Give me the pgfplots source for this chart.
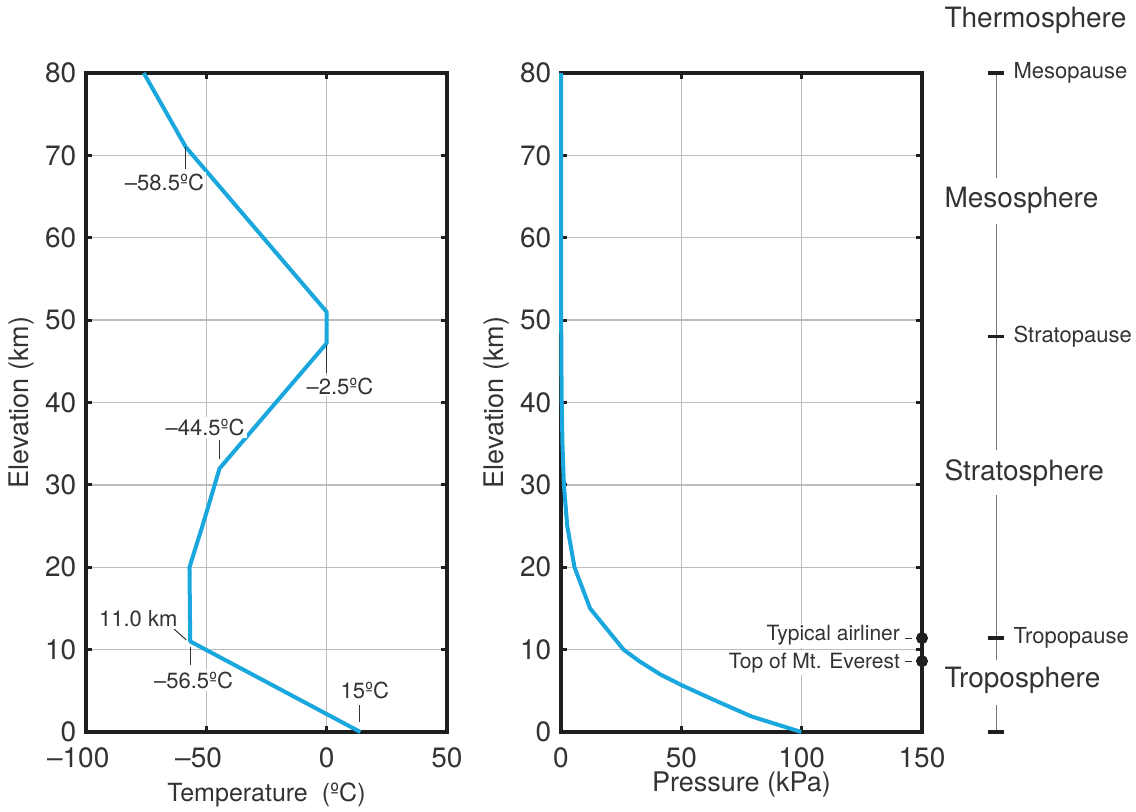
\documentclass[border=0pt]{standalone}
\usepackage{fontspec}
\setmainfont{TeX Gyre Heros}
\usepackage{pgfplots}
\pgfplotsset{compat=1.18}
\definecolor{atmblue}{HTML}{19A7DD}
\definecolor{txt}{HTML}{333333}
\definecolor{gridc}{HTML}{BDBDBD}
\newcommand{\fs}[1]{\fontsize{#1}{#1}\selectfont}

\pgfplotsset{
  atm/.style={
    scale only axis, width=180.5pt, height=329.5pt,
    anchor=south west, clip=false,
    ymin=0, ymax=80, ytick={0,10,...,80},
    grid=major, major grid style={line width=0.7pt, gridc},
    axis line style={line width=1.8pt, black!88},
    tick align=inside, major tick length=3pt,
    tick style={line width=1.6pt, black!88},
    tick label style={font=\fs{14}, text=txt, inner sep=0pt},
    xticklabel style={yshift=-7.4pt},
    yticklabel style={xshift=-4.7pt},
    /pgf/number format/assume math mode=true,
    ylabel={Elevation (km)},
    every axis y label/.style={at={(rel axis cs:0,0.5)}, xshift=-32pt, rotate=90,
      anchor=center, font=\fs{13.5}, text=txt},
  },
}
\tikzset{
  note/.style={font=\fs{11}, text=txt, fill=white, inner sep=1pt},
  lead/.style={line width=0.5pt, txt},
  layer/.style={font=\fs{14}, text=txt, anchor=west, inner sep=0pt},
  pause/.style={font=\fs{11}, text=txt, anchor=west, inner sep=0pt},
  bar/.style={line width=0.6pt, black!55},
  barTick/.style={line width=1.6pt, black!88},
}

\begin{document}
\begin{tikzpicture}
\useasboundingbox (0,0) rectangle (568pt,-406pt);

% temperature profile
\begin{axis}[atm, at={(43pt,-366pt)},
  xmin=-100, xmax=50, xtick={-100,-50,0,50},
  xticklabels={\llap{–}100,\llap{–}50,0,50},
  xlabel={Temperature\ \ (ºC)},
  every axis x label/.style={at={(rel axis cs:0.5,0)}, yshift=-31.5pt, anchor=center,
    font=\fs{12.5}, text=txt},
]
\addplot[atmblue, line width=2pt, line join=round] coordinates {
  (-76,80) (-58.5,71) (0,51) (0,47.2) (-44.5,32) (-51,25.6) (-57,20) (-56.7,11) (14,0)};
\draw[lead] (axis cs:-58.5,71) -- (axis cs:-58.5,68.3);
\node[note] at (axis cs:-67.4,66.7) {–58.5ºC};
\draw[lead] (axis cs:0,47) -- (axis cs:0,43.6);
\node[note] at (axis cs:5.5,42.0) {–2.5ºC};
\draw[lead] (axis cs:-44.4,35.4) -- (axis cs:-44.4,33.2);
\node[note] at (axis cs:-50.5,37.0) {–44.5ºC};
\draw[lead] (axis cs:-63.8,12.6) -- (axis cs:-58.4,11.2);
\node[note] at (axis cs:-78.3,13.8) {11.0 km};
\draw[lead] (axis cs:-56.4,10.3) -- (axis cs:-56.4,8.1);
\node[note] at (axis cs:-55.3,6.3) {–56.5ºC};
\draw[lead] (axis cs:13.8,3.3) -- (axis cs:13.8,1.2);
\node[note] at (axis cs:15.9,5.0) {15ºC};
\end{axis}

% pressure profile
\begin{axis}[atm, at={(280.5pt,-366pt)},
  xmin=0, xmax=150, xtick={0,50,100,150},
  xlabel={Pressure (kPa)},
  every axis x label/.style={at={(rel axis cs:0.5,0)}, yshift=-26.5pt, anchor=center,
    font=\fs{13.5}, text=txt},
]
\addplot[atmblue, line width=2pt, line join=round] coordinates {
  (99.8,0) (79,1.9) (63.5,3.9) (50,5.7) (41.2,7.0) (32.5,8.6) (26,10)
  (12.1,15) (5.6,20) (2.6,25) (1.2,30) (0.6,35) (0.3,40) (0.15,45)
  (0.08,50) (0.02,60) (0.005,70) (0.001,80)};
\addplot[only marks, mark=*, mark size=2.8pt, black!88] coordinates {(150,11.4) (150,8.6)};
\node[note, font=\fs{10.5}, anchor=east] at (axis cs:141.8,11.7) {Typical airliner};
\draw[lead] (axis cs:143.0,11.4) -- (axis cs:146.0,11.4);
\node[note, font=\fs{10.5}, anchor=east] at (axis cs:141.8,8.4) {Top of Mt. Everest};
\draw[lead] (axis cs:143.0,8.6) -- (axis cs:146.0,8.6);

% layer scale to the right
\draw[bar] (axis cs:180.8,80) -- (axis cs:180.8,67.2);
\draw[bar] (axis cs:180.8,61.7) -- (axis cs:180.8,34.2);
\draw[bar] (axis cs:180.8,28.8) -- (axis cs:180.8,8.7);
\draw[bar] (axis cs:180.8,3.3) -- (axis cs:180.8,0);
\draw[barTick] (axis cs:177.5,80) -- (axis cs:184.2,80);
\draw[barTick] (axis cs:177.5,48) -- (axis cs:184.2,48);
\draw[barTick] (axis cs:177.5,11.4) -- (axis cs:184.2,11.4);
\draw[barTick] (axis cs:177.5,0) -- (axis cs:184.2,0);
\node[layer] at (axis cs:159.2,86.4) {Thermosphere};
\node[layer] at (axis cs:159.2,64.6) {Mesosphere};
\node[layer] at (axis cs:159.2,31.4) {Stratosphere};
\node[layer] at (axis cs:159.2,6.3) {Troposphere};
\node[pause] at (axis cs:187.9,80) {Mesopause};
\node[pause] at (axis cs:187.9,48) {Stratopause};
\node[pause] at (axis cs:187.9,11.4) {Tropopause};
\end{axis}
\end{tikzpicture}
\end{document}
